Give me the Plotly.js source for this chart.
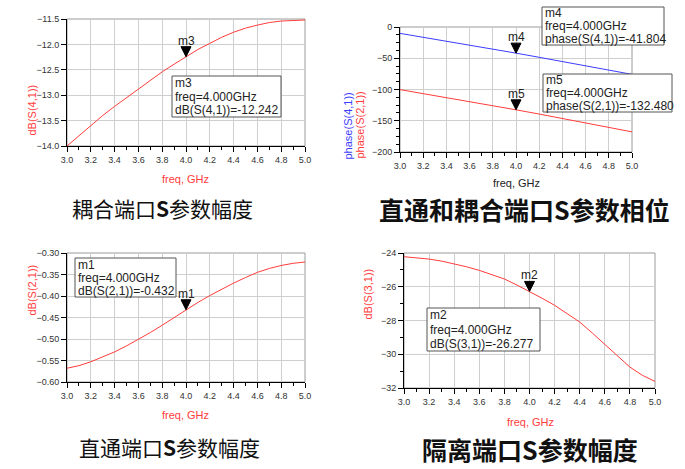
<!DOCTYPE html>
<html><head><meta charset="utf-8">
<script src="https://cdn.plot.ly/plotly-3.0.1.min.js"></script>
<style>html,body{margin:0;padding:0;background:#fff}#chart{width:685px;height:469px}</style>
</head><body><div id="chart"></div>
<script>
// ---------- data ----------
const freq = [3.0,3.1,3.2,3.3,3.4,3.5,3.6,3.7,3.8,3.9,4.0,4.1,4.2,4.3,4.4,4.5,4.6,4.7,4.8,4.9,5.0];
const s41dB = [-14.00,-13.80,-13.60,-13.40,-13.22,-13.05,-12.88,-12.70,-12.54,-12.39,-12.242,-12.10,-11.98,-11.86,-11.76,-11.68,-11.62,-11.57,-11.54,-11.53,-11.52];
const freqPhase = [3.0,3.2,3.4,3.6,3.8,4.0,4.2,4.4,4.6,4.8,5.0];
const phaseS41 = [-10.2,-16.3,-22.5,-28.8,-35.2,-41.804,-48.5,-55.1,-61.9,-68.8,-75.8];
const phaseS21 = [-100.2,-106.5,-112.8,-119.2,-125.8,-132.480,-139.3,-146.3,-153.3,-160.5,-167.8];
const s21dB = [-0.568,-0.562,-0.553,-0.542,-0.530,-0.516,-0.501,-0.485,-0.468,-0.450,-0.432,-0.415,-0.399,-0.384,-0.370,-0.357,-0.345,-0.336,-0.329,-0.324,-0.321];
const s31dB = [-24.22,-24.28,-24.36,-24.48,-24.63,-24.82,-25.03,-25.27,-25.54,-25.90,-26.277,-26.68,-27.10,-27.57,-28.09,-28.74,-29.43,-30.12,-30.76,-31.25,-31.61];

const markerFreq = 4.0;
const markerNames = ['m3','m4','m5','m1','m2'];
const markerValues = [-12.242,-41.804,-132.480,-0.432,-26.277];
const markerExprs = ['dB(S(4,1))','phase(S(4,1))','phase(S(2,1))','dB(S(2,1))','dB(S(3,1))'];

const yTitles = ['dB(S(4,1))','phase(S(4,1))','phase(S(2,1))','dB(S(2,1))','dB(S(3,1))'];
const xTitle = 'freq, GHz';
const panelTitles = ['耦合端口<b>S</b>参数幅度','直通和耦合端口<b>S</b>参数相位','直通端口<b>S</b>参数幅度','隔离端口<b>S</b>参数幅度'];

// ---------- styling ----------
const W = 685, H = 469;
const px = v => v / W;
const py = v => 1 - v / H;
const RED = '#ff3c3c', BLUE = '#3c3cff';
const FONT = 'Liberation Sans, Arial, sans-serif';
const CJK = 'Noto Sans CJK SC, sans-serif';

function xa(x0, x1, anchor) {
  return {domain:[px(x0), px(x1)], anchor, range:[3,5], dtick:0.2, tick0:3, tickformat:'.1f',
    showline:true, linecolor:'#000', linewidth:1, ticks:'outside', ticklen:5, tickcolor:'#000',
    showgrid:true, gridcolor:'#cfcfcf', gridwidth:1, zeroline:false, fixedrange:true,
    tickfont:{family:FONT, size:9, color:'#333'},
    minor:{dtick:0.1, tick0:3, ticks:'outside', ticklen:3, tickcolor:'#000', showgrid:false}};
}
function ya(y0, y1, anchor, range, dtick, fmt, minorDtick) {
  const a = {domain:[py(y1), py(y0)], anchor, range, dtick, tick0:range[0],
    showline:true, linecolor:'#000', linewidth:1, ticks:'outside', ticklen:5, tickcolor:'#000',
    showgrid:true, gridcolor:'#cfcfcf', gridwidth:1, zeroline:false, fixedrange:true,
    tickfont:{family:FONT, size:9, color:'#333'}};
  if (fmt) a.tickformat = fmt;
  if (minorDtick) a.minor = {dtick:minorDtick, ticks:'outside', ticklen:3, tickcolor:'#000', showgrid:false};
  return a;
}

const traces = [
  {x:freq, y:s41dB, xaxis:'x', yaxis:'y', mode:'lines', line:{color:RED, width:1}, hoverinfo:'skip'},
  {x:freqPhase, y:phaseS41, xaxis:'x2', yaxis:'y2', mode:'lines', line:{color:BLUE, width:1}, hoverinfo:'skip'},
  {x:freqPhase, y:phaseS21, xaxis:'x2', yaxis:'y2', mode:'lines', line:{color:RED, width:1}, hoverinfo:'skip'},
  {x:freq, y:s21dB, xaxis:'x3', yaxis:'y3', mode:'lines', line:{color:RED, width:1}, hoverinfo:'skip'},
  {x:freq, y:s31dB, xaxis:'x4', yaxis:'y4', mode:'lines', line:{color:RED, width:1}, hoverinfo:'skip'}
];

const shapes = [];
const annotations = [];
const axPairs = [['x','y'],['x2','y2'],['x3','y3'],['x4','y4']];
// gray plot frame (top/right)
axPairs.forEach(([xr, yr]) => {
  shapes.push({type:'rect', xref:xr+' domain', yref:yr+' domain', x0:0, x1:1, y0:0, y1:1,
    line:{color:'#9a9a9a', width:1}, layer:'below'});
});

// markers
const markerAxes = [['x','y'],['x2','y2'],['x2','y2'],['x3','y3'],['x4','y4']];
markerNames.forEach((name, i) => {
  const [xr, yr] = markerAxes[i];
  shapes.push({type:'path', xref:xr, yref:yr, xsizemode:'pixel', ysizemode:'pixel',
    xanchor:markerFreq, yanchor:markerValues[i], path:'M-5,10 L5,10 L0,0 Z',
    fillcolor:'#000', line:{color:'#000', width:1}, layer:'above'});
  annotations.push({xref:xr, yref:yr, x:markerFreq, y:markerValues[i], yshift:16, showarrow:false,
    text:name, font:{family:FONT, size:12, color:'#222'}, xanchor:'center', yanchor:'middle'});
});

// marker readout boxes [left, top, right, bottom] in px
const boxes = [[172,76,281,117],[542,7,664,45],[543,74,672,112],[75,258,176,297],[427,308,540,351]];
markerNames.forEach((name, i) => {
  const [l, t, r, b] = boxes[i];
  shapes.push({type:'rect', xref:'paper', yref:'paper', x0:px(l), x1:px(r), y0:py(b), y1:py(t),
    fillcolor:'#fff', line:{color:'#555', width:1}, layer:'above'});
  const lines = [name, 'freq=' + markerFreq.toFixed(3) + 'GHz', markerExprs[i] + '=' + markerValues[i].toFixed(3)];
  const step = (b - t) / 3;
  lines.forEach((txt, k) => {
    annotations.push({xref:'paper', yref:'paper', x:px(l + 1), y:py(t + step * (k + 0.5)), showarrow:false,
      xanchor:'left', yanchor:'middle', text:txt, font:{family:FONT, size:12, color:'#222'}});
  });
});

// axis titles
const xTitlePos = [[185,179,RED],[516,183,'#222'],[185,415,RED],[530,422,RED]];
xTitlePos.forEach(([x, y, c]) => annotations.push({xref:'paper', yref:'paper', x:px(x), y:py(y), showarrow:false,
  text:xTitle, font:{family:FONT, size:11, color:c}, xanchor:'center', yanchor:'middle'}));
annotations.push({xref:'paper', yref:'paper', x:px(23), y:py(83), showarrow:false, textangle:-90,
  text:yTitles[0], font:{family:FONT, size:11, color:RED}});
annotations.push({xref:'paper', yref:'paper', x:px(348), y:py(90), showarrow:false, textangle:-90,
  text:yTitles[1], font:{family:FONT, size:11, color:BLUE}});
annotations.push({xref:'paper', yref:'paper', x:px(360), y:py(90), showarrow:false, textangle:-90,
  text:yTitles[2], font:{family:FONT, size:11, color:RED}});
annotations.push({xref:'paper', yref:'paper', x:px(23), y:py(318), showarrow:false, textangle:-90,
  text:yTitles[3], font:{family:FONT, size:11, color:RED}});
annotations.push({xref:'paper', yref:'paper', x:px(367), y:py(322), showarrow:false, textangle:-90,
  text:yTitles[4], font:{family:FONT, size:11, color:RED}});

// panel titles
const titlePos = [[162,208,21,'normal'],[524,209,25,'bold'],[169,447,21,'normal'],[530,449,25,'bold']];
panelTitles.forEach((t, i) => {
  const [x, y, s, w] = titlePos[i];
  annotations.push({xref:'paper', yref:'paper', x:px(x), y:py(y), showarrow:false, text:t,
    xanchor:'center', yanchor:'middle', font:{family:CJK, size:s, color:'#111', weight:w}});
});

const layout = {
  width:W, height:H, margin:{l:0, r:0, t:0, b:0}, showlegend:false,
  paper_bgcolor:'#fff', plot_bgcolor:'#fff',
  xaxis: xa(67, 305, 'y'),
  yaxis: ya(19, 146, 'x', [-14, -11.5], 0.5, '.1f', null),
  xaxis2: xa(400, 632, 'y2'),
  yaxis2: ya(27, 152, 'x2', [-200, 0], 50, null, 12.5),
  xaxis3: xa(67, 305, 'y3'),
  yaxis3: ya(253, 382, 'x3', [-0.6, -0.3], 0.05, '.2f', null),
  xaxis4: xa(404, 655, 'y4'),
  yaxis4: ya(253, 388, 'x4', [-32, -24], 2, null, 1),
  shapes, annotations
};
Plotly.newPlot('chart', traces, layout, {displayModeBar:false, staticPlot:true});
</script></body></html>
